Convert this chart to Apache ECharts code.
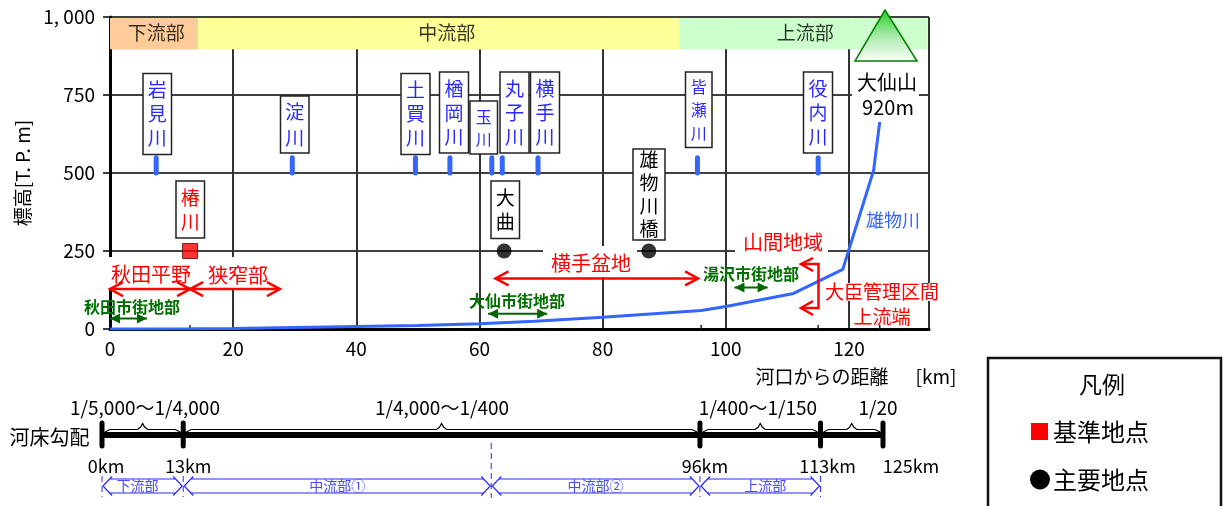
<!DOCTYPE html>
<html>
<head>
<meta charset="utf-8">
<title>雄物川 河床縦断</title>
<script src="https://cdn.jsdelivr.net/npm/echarts@6/dist/echarts.min.js"></script>
<style>
  html, body { margin: 0; padding: 0; background: #fff; }
  #main { width: 1230px; height: 506px; }
</style>
</head>
<body>
<div id="main"></div>
<script>
// 河床縦断 (distance km, elevation m)
const riverKm = [0, 13, 20, 40, 50, 60, 69, 80, 96, 100, 111, 119, 124, 125]
const riverElev = [0, 1, 2, 8, 11, 17, 25, 38, 59, 72, 114, 191, 508, 664]

// 支川の合流点
const tributaryKm = [7.5, 29.6, 49.6, 55.2, 62, 63.7, 69.5, 95.4, 115]
const minorTickKm = [13, 96, 115, 125]

const standardPoints = [[13, 250]]
const mainPoints = [[64, 250], [87.5, 250]]

// 上部の区分
const reachBandNames = ['下流部', '中流部', '上流部']
const reachBandKm = [0, 14.3, 92.4, 132.7]

// 河床勾配
const slopeBreakKm = [0, 13, 95.7, 115, 125]
const slopeBreakLabels = ['0km', '13km', '96km', '113km', '125km']
const slopeLabels = ['1/5,000～1/4,000', '1/4,000～1/400', '1/400～1/150', '1/20']
const lowerReachNames = ['下流部', '中流部①', '中流部②', '上流部']
const lowerReachKm = [0, 13, 62.3, 95.7, 115]

// 矢印 [from km, to km, elevation]
const redSpans = [[0, 13, 128], [13, 27.6, 128], [62.6, 95.5, 162]]
const greenSpans = [[0, 6, 34], [61.4, 71, 49], [101.4, 106.8, 133]]

const yTicks = { 0: '0', 250: '250', 500: '500', 750: '750', 1000: '1, 000' }

const CJK = '"Noto Sans CJK JP", sans-serif'
const NARROW = '"Liberation Sans Narrow", "Noto Sans CJK JP", sans-serif'
const BLUE = '#2a2aff'
const LINE_BLUE = '#3366ff'
const RED = '#ff0000'
const GREEN = '#006f00'
const GREEN_ARROW = '#006600'

// 吹き出しの配置 (pixel)
const callouts = [
  {name: '岩見川', x: 143, y: 73.5, w: 28.5, h: 81, color: BLUE, size: 19, lh: 24},
  {name: '淀川', x: 280.5, y: 96, w: 28.5, h: 57, color: BLUE, size: 19, lh: 26},
  {name: '土買川', x: 401, y: 73.5, w: 29, h: 81, color: BLUE, size: 19, lh: 24},
  {name: '楢岡川', x: 439.5, y: 72, w: 29, h: 81, color: BLUE, size: 19, lh: 24},
  {name: '玉川', x: 470, y: 101, w: 27.5, h: 53, color: BLUE, size: 16, lh: 22},
  {name: '丸子川', x: 500, y: 72, w: 29, h: 81, color: BLUE, size: 19, lh: 24},
  {name: '横手川', x: 530.5, y: 72, w: 29, h: 81, color: BLUE, size: 19, lh: 24},
  {name: '皆瀬川', x: 685.5, y: 72, w: 26.5, h: 75.5, color: BLUE, size: 16, lh: 23},
  {name: '役内川', x: 803.5, y: 72, w: 29, h: 81, color: BLUE, size: 19, lh: 24},
  {name: '椿川', x: 176, y: 181, w: 28.5, h: 57, color: RED, size: 19, lh: 24},
  {name: '大曲', x: 491, y: 181, w: 28.5, h: 57.5, color: '#000', size: 19, lh: 24},
  {name: '雄物川橋', x: 633, y: 149, w: 32, h: 91, color: '#000', size: 19, lh: 23}
]

// 白抜きのラベル (pixel)
const whiteMasks = [
  [104, 257, 86, 31], [190, 257, 90, 31], [543, 246, 94, 31],
  [735, 230, 93, 22], [825, 283, 112, 18], [852, 62, 67, 59]
]
const annotations = [
  {t: '秋田平野', x: 151, y: 274, c: RED, s: 20},
  {t: '狭窄部', x: 238, y: 275, c: RED, s: 20},
  {t: '横手盆地', x: 591, y: 263, c: RED, s: 20},
  {t: '山間地域', x: 783, y: 242, c: RED, s: 20},
  {t: '大臣管理区間', x: 882, y: 292, c: RED, s: 19},
  {t: '上流端', x: 882, y: 317, c: RED, s: 19},
  {t: '秋田市街地部', x: 132, y: 307, c: GREEN, s: 16, w: 'bold'},
  {t: '大仙市街地部', x: 517, y: 301, c: GREEN, s: 16, w: 'bold'},
  {t: '湯沢市街地部', x: 751, y: 274, c: GREEN, s: 16, w: 'bold'},
  {t: '雄物川', x: 893, y: 220, c: LINE_BLUE, s: 18},
  {t: '大仙山', x: 887, y: 82, c: '#000', s: 20},
  {t: '920m', x: 888, y: 107, c: '#000', s: 20, f: NARROW},
  {t: '河口からの距離', x: 822, y: 377, c: '#000', s: 19},
  {t: '[km]', x: 936, y: 377, c: '#000', s: 19, f: NARROW},
  {t: '河床勾配', x: 49.5, y: 437, c: '#000', s: 20},
  {t: '凡例', x: 1102, y: 384, c: '#000', s: 23},
  {t: '基準地点', x: 1101, y: 432, c: '#000', s: 24},
  {t: '主要地点', x: 1101, y: 480, c: '#000', s: 24}
]

const graphics = []
whiteMasks.forEach(m => {
  graphics.push({type: 'rect', z: 1, shape: {x: m[0], y: m[1], width: m[2], height: m[3]}, style: {fill: '#fff'}})
})
callouts.forEach(c => {
  graphics.push({type: 'rect', z: 10, shape: {x: c.x, y: c.y, width: c.w, height: c.h}, style: {fill: '#fff', stroke: '#222', lineWidth: 1.5}})
  graphics.push({type: 'text', z: 11, x: c.x + c.w / 2, y: c.y + c.h / 2, style: {
    text: c.name.split('').join('\n'), fill: c.color, font: c.size + 'px ' + CJK,
    lineHeight: c.lh, align: 'center', verticalAlign: 'middle'
  }})
})
annotations.forEach(a => {
  graphics.push({type: 'text', z: 11, x: a.x, y: a.y, style: {
    text: a.t, fill: a.c, font: (a.w || 'normal') + ' ' + a.s + 'px ' + (a.f || CJK),
    align: 'center', verticalAlign: 'middle'
  }})
})
// 大仙山
graphics.push({type: 'polygon', z: 6, shape: {points: [[885, 10], [917, 61], [855, 61]]}, style: {
  fill: new echarts.graphic.LinearGradient(0, 0, 0, 1, [{offset: 0, color: '#22cc22'}, {offset: 0.5, color: '#a8eaa8'}, {offset: 1, color: '#ffffff'}]),
  stroke: '#008000', lineWidth: 1.5
}})
// 大臣管理区間の括弧
graphics.push({type: 'polyline', z: 9, shape: {points: [[801, 264], [818.5, 264], [818.5, 308], [801, 308]]}, style: {stroke: RED, lineWidth: 2.5, fill: null}})
graphics.push({type: 'polyline', z: 9, shape: {points: [[813, 258], [801, 264], [813, 271]]}, style: {stroke: RED, lineWidth: 2.5, fill: null}})
graphics.push({type: 'polyline', z: 9, shape: {points: [[813, 301], [801, 308], [813, 315]]}, style: {stroke: RED, lineWidth: 2.5, fill: null}})
// 凡例
graphics.push({type: 'polyline', z: 5, shape: {points: [[988, 506], [988, 358], [1221, 358], [1221, 506]]}, style: {stroke: '#111', lineWidth: 2.5, fill: null}})
graphics.push({type: 'rect', z: 5, shape: {x: 1031, y: 423, width: 17, height: 17}, style: {fill: RED}})
graphics.push({type: 'circle', z: 5, shape: {cx: 1040, cy: 479.5, r: 10}, style: {fill: '#000'}})

const renderBand = (params, api) => {
  const p0 = api.coord([api.value(0), 1000])
  const p1 = api.coord([api.value(1), 897])
  return {
    type: 'group',
    children: [{
      type: 'rect',
      shape: {x: p0[0], y: p0[1] + 1, width: p1[0] - p0[0], height: p1[1] - p0[1] - 1},
      style: {fill: ['#ffcc99', '#ffff99', '#ccffcc'][params.dataIndex]}
    }]
  }
}

const renderTributary = (params, api) => {
  const a = api.coord([api.value(0), 549])
  const b = api.coord([api.value(0), 500])
  return {type: 'line', shape: {x1: a[0], y1: a[1], x2: b[0], y2: b[1]}, style: {stroke: LINE_BLUE, lineWidth: 5, lineCap: 'round'}}
}

const renderMinorTick = (params, api) => {
  const a = api.coord([api.value(0), 0])
  return {type: 'line', shape: {x1: a[0], y1: a[1], x2: a[0], y2: a[1] - 4}, style: {stroke: '#222', lineWidth: 1.5}}
}

const renderRedSpan = (params, api) => {
  const a = api.coord([api.value(0), api.value(2)])
  const b = api.coord([api.value(1), api.value(2)])
  const st = {stroke: RED, lineWidth: 2.5, fill: null}
  return {
    type: 'group',
    children: [
      {type: 'line', shape: {x1: a[0], y1: a[1], x2: b[0], y2: b[1]}, style: st},
      {type: 'polyline', shape: {points: [[a[0] + 13, a[1] - 7], [a[0], a[1]], [a[0] + 13, a[1] + 7]]}, style: st},
      {type: 'polyline', shape: {points: [[b[0] - 13, b[1] - 7], [b[0], b[1]], [b[0] - 13, b[1] + 7]]}, style: st}
    ]
  }
}

const renderGreenSpan = (params, api) => {
  const a = api.coord([api.value(0), api.value(2)])
  const b = api.coord([api.value(1), api.value(2)])
  return {
    type: 'group',
    children: [
      {type: 'line', shape: {x1: a[0], y1: a[1], x2: b[0], y2: b[1]}, style: {stroke: GREEN_ARROW, lineWidth: 2}},
      {type: 'polygon', shape: {points: [[a[0] + 10, a[1] - 5], [a[0], a[1]], [a[0] + 10, a[1] + 5]]}, style: {fill: GREEN_ARROW}},
      {type: 'polygon', shape: {points: [[b[0] - 10, b[1] - 5], [b[0], b[1]], [b[0] - 10, b[1] + 5]]}, style: {fill: GREEN_ARROW}}
    ]
  }
}

// 河床勾配の区切りと括弧
const renderSlopeBreak = (params, api) => {
  const i = params.dataIndex
  const x = api.coord([api.value(0), 0])[0]
  const kids = [
    {type: 'line', shape: {x1: x, y1: 423, x2: x, y2: 446}, style: {stroke: '#000', lineWidth: 5, lineCap: 'round'}},
    {type: 'text', x: x + [4, 5, 5, 7, 28][i], y: 466, style: {text: slopeBreakLabels[i], fill: '#000', font: '18px ' + NARROW, align: 'center', verticalAlign: 'middle'}}
  ]
  if (i < slopeBreakKm.length - 1) {
    const x2 = api.coord([slopeBreakKm[i + 1], 0])[0]
    const m = (x + x2) / 2
    kids.push({type: 'polyline', shape: {points: [[x + 3, 432], [x + 8, 429.5], [m - 5, 429.5], [m - 2, 427], [m, 423.5], [m + 2, 427], [m + 5, 429.5], [x2 - 8, 429.5], [x2 - 3, 432]]}, style: {stroke: '#000', lineWidth: 1.2, fill: null}})
    kids.push({type: 'text', x: [145, 442, 758, 878][i], y: 408, style: {text: slopeLabels[i], fill: '#000', font: '19px ' + NARROW, align: 'center', verticalAlign: 'middle'}})
  }
  return {type: 'group', children: kids}
}

const renderLowerReach = (params, api) => {
  const i = params.dataIndex
  const x0 = api.coord([api.value(0), 0])[0]
  const x1 = api.coord([api.value(1), 0])[0]
  const st = {stroke: BLUE, lineWidth: 1.2, fill: '#fff'}
  const dash = {stroke: BLUE, lineWidth: 1, lineDash: [6, 4]}
  const kids = [
    {type: 'polygon', shape: {points: [
      [x0 + 1, 486], [x0 + 10, 476.5], [x0 + 8, 479], [x1 - 8, 479], [x1 - 10, 476.5], [x1 - 1, 486],
      [x1 - 10, 495.5], [x1 - 8, 493], [x0 + 8, 493], [x0 + 10, 495.5]
    ]}, style: st},
    {type: 'text', x: (x0 + x1) / 2 + [-5, 0, 0, 5][i], y: 486, style: {text: lowerReachNames[i], fill: '#4a4aff', font: '14px ' + CJK, align: 'center', verticalAlign: 'middle'}},
    {type: 'line', shape: {x1: x0, y1: i === 2 ? 443 : 476, x2: x0, y2: i === 2 ? 498 : 497}, style: dash}
  ]
  if (i === lowerReachNames.length - 1) {
    kids.push({type: 'line', shape: {x1: x1, y1: 476, x2: x1, y2: 497}, style: dash})
  }
  return {type: 'group', children: kids}
}

const chart = echarts.init(document.getElementById('main'), null, {renderer: 'canvas'})

const option = {
  animation: false,
  backgroundColor: '#fff',
  textStyle: {fontFamily: CJK},
  grid: [
    {left: 110, top: 17, width: 819, height: 312},
    {left: 102, top: 420, width: 781, height: 30}
  ],
  xAxis: [{
    type: 'value',
    gridIndex: 0,
    min: 0,
    max: 133,
    interval: 20,
    axisTick: {show: false},
    axisLine: {show: true, onZero: false, lineStyle: {color: '#000', width: 3}},
    axisLabel: {showMaxLabel: false, color: '#000', fontSize: 19, fontFamily: NARROW, margin: 10},
    splitLine: {show: true, lineStyle: {color: '#333', width: 2, type: 'solid'}}
  }, {
    type: 'value',
    gridIndex: 1,
    min: 0,
    max: 125,
    show: false
  }],
  yAxis: [{
    type: 'value',
    gridIndex: 0,
    min: 0,
    max: 1000,
    interval: 250,
    name: '標高[T. P. m]',
    nameLocation: 'middle',
    nameRotate: 90,
    nameGap: 78,
    nameTextStyle: {color: '#000', fontSize: 19, fontFamily: CJK},
    axisLine: {show: true, onZero: false, lineStyle: {color: '#000', width: 3}},
    axisTick: {show: true, length: 7, lineStyle: {color: '#000', width: 1.5}},
    axisLabel: {color: '#000', fontSize: 19, fontFamily: NARROW, margin: 15, formatter: v => yTicks[v]},
    splitLine: {show: true, lineStyle: {color: '#000', width: 1.5, type: 'solid'}}
  }, {
    type: 'value',
    gridIndex: 1,
    min: 0,
    max: 1,
    show: false
  }],
  graphic: {elements: graphics},
  series: [
    {
      type: 'custom', name: '区分', z: 3, xAxisIndex: 0, yAxisIndex: 0,
      data: reachBandNames.map((n, i) => ({name: n, value: [reachBandKm[i], reachBandKm[i + 1]]})),
      renderItem: renderBand,
      label: {show: false},
      silent: true
    },
    {
      type: 'scatter', name: '区分名', z: 4, xAxisIndex: 0, yAxisIndex: 0, symbolSize: 0,
      data: reachBandNames.map((n, i) => ({name: n, value: [[7.5, 54.7, 112.9][i], 948]})),
      label: {show: true, position: 'inside', formatter: '{b}', color: '#000', fontSize: 19, fontFamily: CJK},
      silent: true
    },
    {
      type: 'custom', name: '支川', z: 5, xAxisIndex: 0, yAxisIndex: 0,
      data: tributaryKm.map(k => [k]),
      renderItem: renderTributary,
      silent: true
    },
    {
      type: 'custom', name: '目盛', z: 5, xAxisIndex: 0, yAxisIndex: 0,
      data: minorTickKm.map(k => [k]),
      renderItem: renderMinorTick,
      silent: true
    },
    {
      type: 'line', name: '雄物川', z: 5, xAxisIndex: 0, yAxisIndex: 0,
      data: riverKm.map((k, i) => [k, riverElev[i]]),
      showSymbol: false,
      lineStyle: {color: LINE_BLUE, width: 3},
      silent: true
    },
    {
      type: 'scatter', name: '基準地点', z: 6, xAxisIndex: 0, yAxisIndex: 0,
      data: standardPoints,
      symbol: 'rect',
      symbolSize: 15,
      itemStyle: {color: RED, borderColor: '#500', borderWidth: 1},
      silent: true
    },
    {
      type: 'scatter', name: '主要地点', z: 6, xAxisIndex: 0, yAxisIndex: 0,
      data: mainPoints,
      symbol: 'circle',
      symbolSize: 15,
      itemStyle: {color: '#000'},
      silent: true
    },
    {
      type: 'custom', name: '平野', z: 7, xAxisIndex: 0, yAxisIndex: 0,
      data: redSpans,
      renderItem: renderRedSpan,
      silent: true
    },
    {
      type: 'custom', name: '市街地部', z: 7, xAxisIndex: 0, yAxisIndex: 0,
      data: greenSpans,
      renderItem: renderGreenSpan,
      silent: true
    },
    {
      type: 'line', name: '河床勾配', z: 4, xAxisIndex: 1, yAxisIndex: 1,
      data: [[0, 0.5], [125, 0.5]],
      showSymbol: false,
      lineStyle: {color: '#000', width: 6},
      silent: true
    },
    {
      type: 'custom', name: '勾配区切り', z: 5, xAxisIndex: 1, yAxisIndex: 1,
      data: slopeBreakKm.map(k => [k]),
      renderItem: renderSlopeBreak,
      silent: true
    },
    {
      type: 'custom', name: '河道区分', z: 5, xAxisIndex: 1, yAxisIndex: 1,
      data: lowerReachNames.map((n, i) => [lowerReachKm[i], lowerReachKm[i + 1]]),
      renderItem: renderLowerReach,
      silent: true
    }
  ]
}

chart.setOption(option)
</script>
</body>
</html>
